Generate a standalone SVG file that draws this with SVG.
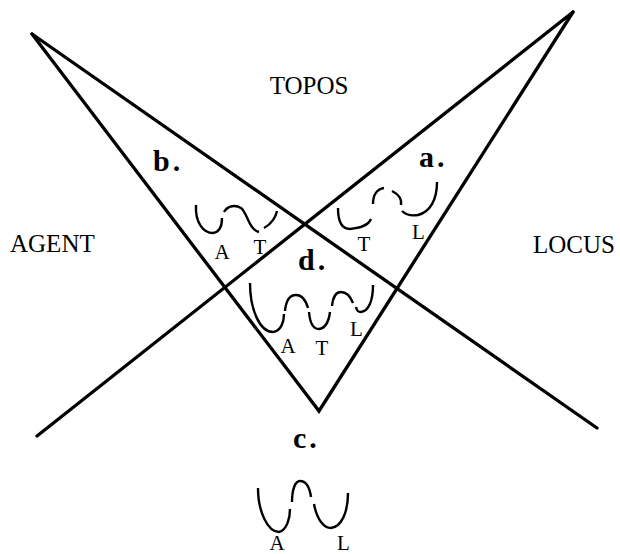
<svg xmlns="http://www.w3.org/2000/svg" width="620" height="554" viewBox="0 0 620 554">
<style>
.ln{fill:none;stroke:#000;stroke-width:3.3;stroke-linecap:round;stroke-linejoin:miter}
.cv{fill:none;stroke:#000;stroke-width:2.4;stroke-linecap:butt}
.big{font-family:"Liberation Serif","Times New Roman",serif;font-size:25px;fill:#000}
.bold{font-family:"Liberation Serif","Times New Roman",serif;font-size:30px;font-weight:bold;fill:#000;letter-spacing:3px}
.lab{font-family:"Liberation Serif","Times New Roman",serif;font-size:21px;fill:#000}
</style>
<rect width="620" height="554" fill="#fff"/>
<g id="connectors">
<path class="ln" d="M32,34 L597,428"/>
<path class="ln" d="M37,436 L573,12"/>
<path class="ln" d="M32,34 L319,411 L573,12"/>
</g>
<g id="topos"><text class="big" x="309" y="94" text-anchor="middle">TOPOS</text></g>
<g id="agent"><text class="big" x="10" y="252">AGENT</text></g>
<g id="locus"><text class="big" x="533" y="253">LOCUS</text></g>
<g id="region-a">
<text class="bold" x="419" y="167">a.</text>
<path class="cv" d="M338,208 C338,220 341,229 350,229 C360,228 368,226 371,219"/>
<path class="cv" d="M373,204 C373,195 377,189 384,188"/>
<path class="cv" d="M392,191 C398,194 402,199 401,205"/>
<path class="cv" d="M402,211 C406,215 412,216 418,215 C430,212 437,200 437,182"/>
<text class="lab" x="364" y="251" text-anchor="middle">T</text>
<text class="lab" x="412" y="239">L</text>
</g>
<g id="region-b">
<text class="bold" x="153" y="171">b.</text>
<path class="cv" d="M196,205 C195,222 203,233 213,233 C220,232 222,226 222,218"/>
<path class="cv" d="M224,212 C228,205 236,205 241,208 C247,212 249,230 259,232"/>
<path class="cv" d="M264,228 C272,224 276,216 277,211"/>
<text class="lab" x="222" y="259" text-anchor="middle">A</text>
<text class="lab" x="260" y="254" text-anchor="middle">T</text>
</g>
<g id="region-d">
<text class="bold" x="298" y="270">d.</text>
<path class="cv" d="M250,283 C250,310 260,332 273,332 C281,331 284,322 284,314"/>
<path class="cv" d="M285,311 C286,300 290,295 296,295 C303,295 306,301 308,308"/>
<path class="cv" d="M309,312 C310,324 313,329 319,329 C326,328 329,320 330,312"/>
<path class="cv" d="M332,306 C333,296 336,292 341,292 C348,292 351,298 353,303"/>
<path class="cv" d="M356,307 C357,312 359,312 361,312 C369,311 373,300 373,285"/>
<text class="lab" x="288" y="353" text-anchor="middle">A</text>
<text class="lab" x="322" y="355" text-anchor="middle">T</text>
<text class="lab" x="350" y="336">L</text>
</g>
<g id="region-c">
<text class="bold" x="293" y="448">c.</text>
<path class="cv" d="M258,488 C258,512 268,532 279,532 C287,530 290,518 290,509"/>
<path class="cv" d="M292,502 C292,490 295,481 300,481 C307,481 310,490 311,497"/>
<path class="cv" d="M314,504 C317,520 324,528 331,528 C341,527 348,513 348,493"/>
<text class="lab" x="277" y="550" text-anchor="middle">A</text>
<text class="lab" x="337" y="550">L</text>
</g>
</svg>
